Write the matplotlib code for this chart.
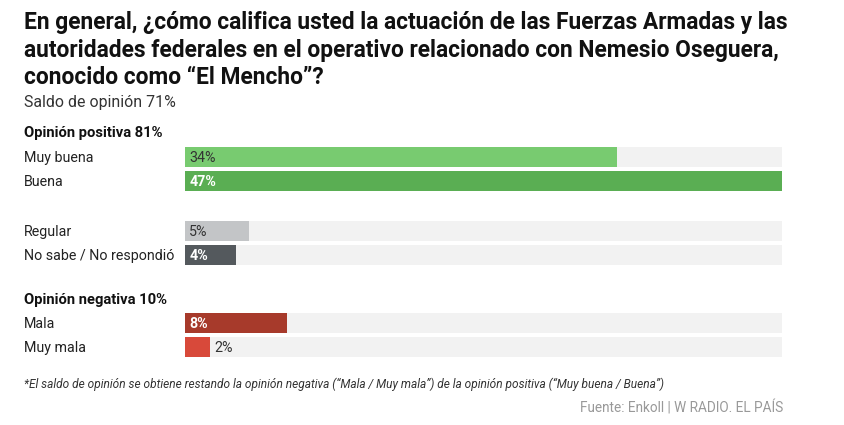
import matplotlib.pyplot as plt

W, H = 844, 425
categories = ["Muy buena", "Buena", "Regular", "No sabe / No respondió", "Mala", "Muy mala"]
values = [34, 47, 5, 4, 8, 2]
colors = ["#78cb70", "#5aae53", "#c3c5c7", "#54595d", "#a73a2b", "#d8493a"]
label_colors = ["#333333", "white", "#333333", "white", "white", "#333333"]
label_bold = [False, True, False, True, True, False]
rows_y = [157, 181, 231, 255, 323, 347]  # row centres, pixels from top

plt.rcParams["font.family"] = ["Roboto", "DejaVu Sans"]
fig = plt.figure(figsize=(W / 100, H / 100), dpi=100)

def px(x, y):
    return x / W, 1 - y / H

# bars axes: x from 185 to 782 px spans 0..47
x0, x1 = 185, 782
ax = fig.add_axes([x0 / W, 0, (x1 - x0) / W, 1])
ax.set_xlim(0, max(values))
ax.set_ylim(H, 0)
ax.axis("off")
bh = 20
ax.barh(rows_y, [max(values)] * len(values), height=bh, color="#f2f2f2", zorder=1)
ax.barh(rows_y, values, height=bh, color=colors, zorder=2)
for y, v, lc, b in zip(rows_y, values, label_colors, label_bold):
    xpos = v + 0.35 if v <= 2 else 0.35
    ax.text(xpos, y + 1, f"{v}%", va="center", ha="left", fontsize=10.3,
            color=lc, fontweight="bold" if b else "normal", zorder=3)

for y, c in zip(rows_y, categories):
    fig.text(*px(24, y + 1), c, va="center", ha="left", fontsize=10.3, color="#222222")

title = ("En general, ¿cómo califica usted la actuación de las Fuerzas Armadas y las\n"
         "autoridades federales en el operativo relacionado con Nemesio Oseguera,\n"
         "conocido como “El Mencho”?")
fig.text(*px(24, 11), title, va="top", ha="left", fontsize=16.4, fontweight="bold",
         color="#111111", linespacing=1.26)
fig.text(*px(24, 103), "Saldo de opinión 71%", va="center", ha="left", fontsize=11.4, color="#333333")
fig.text(*px(24, 133), "Opinión positiva 81%", va="center", ha="left", fontsize=10.6, fontweight="bold", color="#111111")
fig.text(*px(24, 300), "Opinión negativa 10%", va="center", ha="left", fontsize=10.6, fontweight="bold", color="#111111")
fig.text(*px(24, 384), "*El saldo de opinión se obtiene restando la opinión negativa (“Mala / Muy mala”) de la opinión positiva (“Muy buena / Buena”)",
         va="center", ha="left", fontsize=8.6, style="italic", color="#333333")
fig.text(*px(783, 408), "Fuente: Enkoll | W RADIO. EL PAÍS", va="center", ha="right", fontsize=9.8, color="#999999")

fig.savefig("out.png", dpi=100)
